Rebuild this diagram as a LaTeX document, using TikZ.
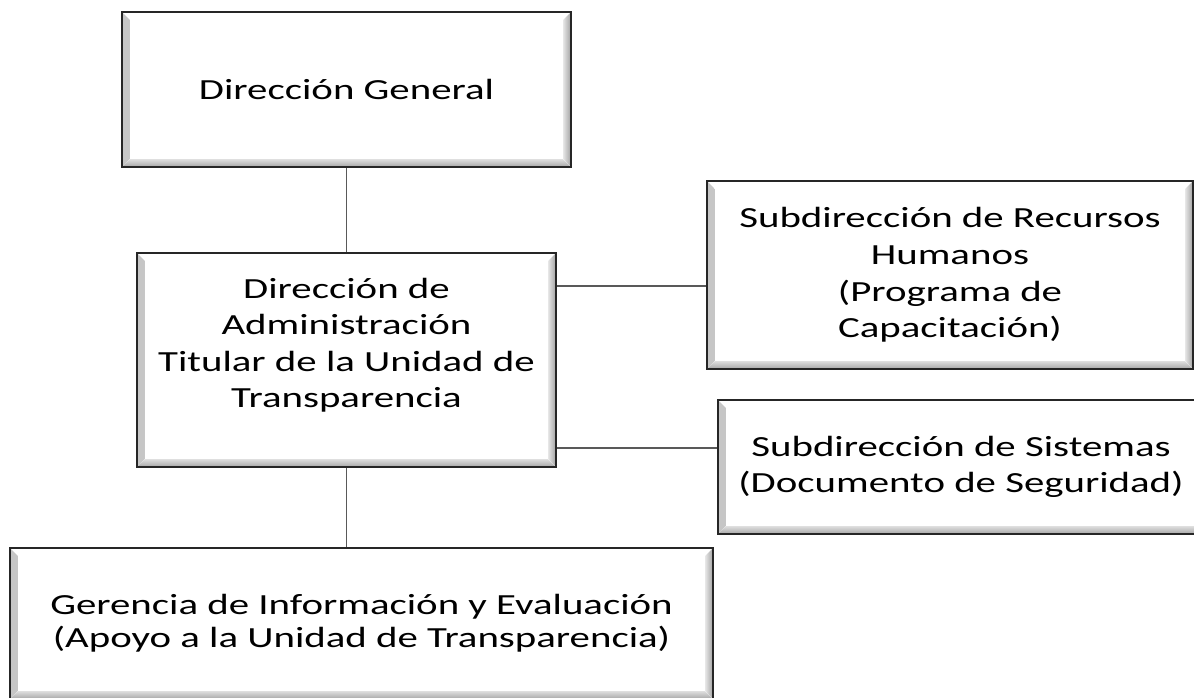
\documentclass[tikz,border=0pt]{standalone}
\usepackage{fontspec}
\setmainfont{Carlito}[FakeStretch=1.4]
\usetikzlibrary{positioning}

\begin{document}
\begin{tikzpicture}[x=0.01cm, y=-0.01cm,
  bevel/.style={path picture={
    \fill[left color=gray!45, right color=white]
      (path picture bounding box.south west) -- (path picture bounding box.north west)
      -- ([shift={(0.08cm,-0.08cm)}]path picture bounding box.north west)
      -- ([shift={(0.08cm,0.08cm)}]path picture bounding box.south west) -- cycle;
    \fill[top color=gray!25, bottom color=gray!70]
      (path picture bounding box.south west) -- (path picture bounding box.south east)
      -- ([shift={(-0.08cm,0.08cm)}]path picture bounding box.south east)
      -- ([shift={(0.08cm,0.08cm)}]path picture bounding box.south west) -- cycle;
    \fill[left color=gray!20, right color=gray!75]
      (path picture bounding box.south east) -- (path picture bounding box.north east)
      -- ([shift={(-0.08cm,-0.08cm)}]path picture bounding box.north east)
      -- ([shift={(-0.08cm,0.08cm)}]path picture bounding box.south east) -- cycle;
  }},
  box/.style={draw=black!85, line width=0.6pt, fill=white, inner sep=0pt, align=center,
    font=\fontsize{8.3}{10.4}\selectfont, bevel},
  link/.style={draw=black!65, line width=0.4pt}]

  \useasboundingbox (0,0) rectangle (1194,698);
  \clip (0,0) rectangle (1194,698);

  \node[box, minimum width=4.49cm, minimum height=1.55cm] (gen) at (346.5,89.5)
    {Dirección General};
  \node[box, minimum width=4.19cm, minimum height=2.14cm, text depth=9.7pt] (adm) at (346.5,360)
    {Dirección de\\ Administración\\ Titular de la Unidad de\\ Transparencia};
  \node[box, minimum width=4.86cm, minimum height=1.88cm] (rh) at (950,275)
    {Subdirección de Recursos\\ Humanos\\ (Programa de\\ Capacitación)};
  \node[box, minimum width=4.86cm, minimum height=1.34cm] (sis) at (961,467)
    {Subdirección de Sistemas\\ (Documento de Seguridad)};
  \node[box, minimum width=7.03cm, minimum height=1.51cm, font=\fontsize{8.3}{9.5}\selectfont] (ger) at (361.5,623.5)
    {Gerencia de Información y Evaluación\\ (Apoyo a la Unidad de Transparencia)};

  \draw[link] (gen) -- (adm);
  \draw[link] (adm.east |- 0,286) -- (rh.west |- 0,286);
  \draw[link] (adm.east |- 0,448) -- (sis.west |- 0,448);
  \draw[link] (adm.south) -- (adm.south |- ger.north);
\end{tikzpicture}
\end{document}
